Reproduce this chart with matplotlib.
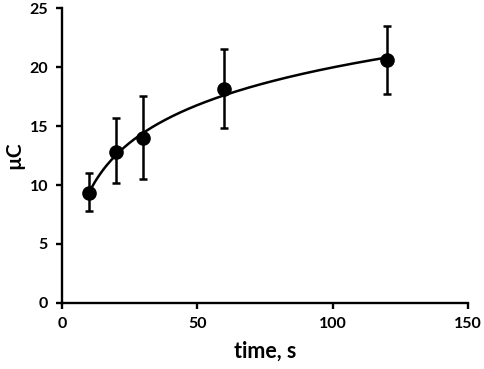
import numpy as np
import matplotlib
matplotlib.use('Agg')
import matplotlib.pyplot as plt

plt.rcParams['font.family'] = ['Lato', 'DejaVu Sans']
plt.rcParams['font.weight'] = 'bold'

time_s = [10, 20, 30, 60, 120]
charge_uC = [9.3, 12.8, 13.95, 18.1, 20.6]
err_low = [1.5, 2.6, 3.45, 3.3, 2.85]
err_high = [1.7, 2.85, 3.6, 3.4, 2.9]

# logarithmic trendline fitted to the points
b, a = np.polyfit(np.log(time_s), charge_uC, 1)
xfit = np.linspace(min(time_s), max(time_s), 200)
yfit = a + b * np.log(xfit)

fig = plt.figure(figsize=(4.84, 3.69), dpi=100)
ax = fig.add_axes([0.128, 0.179, 0.839, 0.799])

ax.plot(xfit, yfit, color='black', lw=1.8, zorder=2)
ax.errorbar(time_s, charge_uC, yerr=[err_low, err_high], fmt='o', color='black',
            ms=9.5, elinewidth=1.8, capsize=3, capthick=1.8, zorder=3)

ax.set_xlim(0, 150)
ax.set_ylim(0, 25)
ax.set_xticks([0, 50, 100, 150])
ax.set_yticks([0, 5, 10, 15, 20, 25])
for s in ['top', 'right']:
    ax.spines[s].set_visible(False)
for s in ['left', 'bottom']:
    ax.spines[s].set_linewidth(1.7)
ax.tick_params(width=1.7, length=4, labelsize=11.5, pad=6)
for lab in ax.get_xticklabels() + ax.get_yticklabels():
    lab.set_fontweight('bold')

ax.set_xlabel('time, s', fontsize=15.5, fontweight='bold', labelpad=7)
ax.set_ylabel('µC', fontsize=15, fontweight='bold', labelpad=4)

plt.savefig('out.png', dpi=100)
